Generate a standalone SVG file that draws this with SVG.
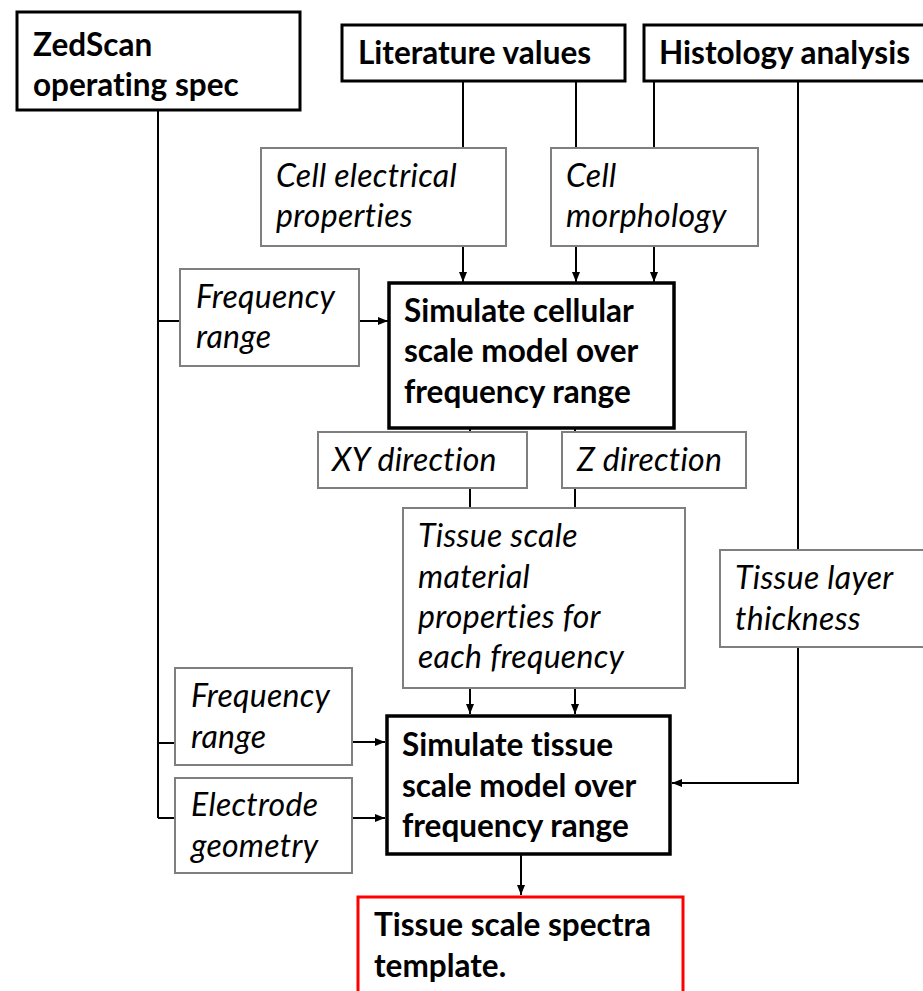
<svg xmlns="http://www.w3.org/2000/svg" width="923" height="991" viewBox="0 0 923 991">
<style>
.bg{fill:#fff}
.key{fill:#fff;stroke:#000;stroke-width:3}
.proc{fill:#fff;stroke:#000;stroke-width:3.5}
.data{fill:#fff;stroke:#7f7f7f;stroke-width:2}
.out{fill:#fff;stroke:#ff0000;stroke-width:3}
text{font-variant-ligatures:none;font-family:Lato,"Open Sans",sans-serif;fill:#000}
.b{font-weight:bold;font-size:31.5px}
.i{font-style:italic;font-size:32px;letter-spacing:0.3px}
.c{fill:none;stroke:#000;stroke-width:2}
.a{fill:none;stroke:#000;stroke-width:2;marker-end:url(#ah)}
</style>
<defs>
<marker id="ah" viewBox="0 0 10 8" refX="10" refY="4" markerWidth="10" markerHeight="8" markerUnits="userSpaceOnUse" orient="auto">
<path d="M0,0 L10,4 L0,8 Z" fill="#000"/>
</marker>
</defs>
<rect class="bg" x="0" y="0" width="923" height="991"/>
<g id="connectors">
<path class="c" d="M158,110 V818 M158,321 H180 M158,743 H175 M158,818 H175"/>
<path class="a" d="M359,321 H388"/>
<path class="c" d="M463,81 V148 M576,81 V148 M654,81 V148"/>
<path class="a" d="M463,246 V282"/>
<path class="a" d="M576,246 V282"/>
<path class="a" d="M654,246 V282"/>
<path class="c" d="M798,81 V550"/>
<path class="a" d="M798,647 V783 H672"/>
<path class="c" d="M470,428 V432 M575,428 V432 M470,488 V508 M575,488 V508"/>
<path class="a" d="M470,688 V714"/>
<path class="a" d="M575,688 V714"/>
<path class="a" d="M352,742 H385"/>
<path class="a" d="M352,818 H385"/>
<path class="a" d="M521,854 V895"/>
</g>
<g id="zedscan">
<rect class="key" x="17" y="12" width="283" height="98"/>
<text class="b" x="33" y="56">ZedScan</text>
<text class="b" x="33" y="96">operating spec</text>
</g>
<g id="literature">
<rect class="key" x="342" y="25" width="283" height="56"/>
<text class="b" x="358" y="64">Literature values</text>
</g>
<g id="histology">
<rect class="key" x="644" y="25" width="283" height="56"/>
<text class="b" x="659" y="64">Histology analysis</text>
</g>
<g id="cell-electrical">
<rect class="data" x="261" y="148" width="245" height="98"/>
<text class="i" x="276" y="187">Cell electrical</text>
<text class="i" x="276" y="227">properties</text>
</g>
<g id="cell-morphology">
<rect class="data" x="551" y="148" width="207" height="98"/>
<text class="i" x="566" y="187">Cell</text>
<text class="i" x="566" y="227">morphology</text>
</g>
<g id="freq1">
<rect class="data" x="180" y="269" width="179" height="97"/>
<text class="i" x="196" y="308">Frequency</text>
<text class="i" x="196" y="348">range</text>
</g>
<g id="sim-cellular">
<rect class="proc" x="389" y="283" width="285" height="145"/>
<text class="b" x="404" y="322">Simulate cellular</text>
<text class="b" x="404" y="362">scale model over</text>
<text class="b" x="404" y="403">frequency range</text>
</g>
<g id="xy">
<rect class="data" x="318" y="432" width="209" height="56"/>
<text class="i" x="332" y="471">XY direction</text>
</g>
<g id="z">
<rect class="data" x="562" y="432" width="184" height="56"/>
<text class="i" x="577" y="471">Z direction</text>
</g>
<g id="tissue-material">
<rect class="data" x="403" y="508" width="282" height="180"/>
<text class="i" x="418" y="547">Tissue scale</text>
<text class="i" x="418" y="588">material</text>
<text class="i" x="418" y="628">properties for</text>
<text class="i" x="418" y="668">each frequency</text>
</g>
<g id="tissue-layer">
<rect class="data" x="720" y="550" width="206" height="97"/>
<text class="i" x="735" y="589">Tissue layer</text>
<text class="i" x="735" y="630">thickness</text>
</g>
<g id="freq2">
<rect class="data" x="175" y="668" width="177" height="97"/>
<text class="i" x="191" y="707">Frequency</text>
<text class="i" x="191" y="748">range</text>
</g>
<g id="electrode">
<rect class="data" x="175" y="778" width="177" height="95"/>
<text class="i" x="191" y="816">Electrode</text>
<text class="i" x="191" y="857">geometry</text>
</g>
<g id="sim-tissue">
<rect class="proc" x="387" y="716" width="283" height="138"/>
<text class="b" x="402" y="756">Simulate tissue</text>
<text class="b" x="402" y="797">scale model over</text>
<text class="b" x="402" y="837">frequency range</text>
</g>
<g id="spectra-template">
<rect class="out" x="358" y="897" width="325" height="110"/>
<text class="b" x="374" y="936">Tissue scale spectra</text>
<text class="b" x="374" y="977">template.</text>
</g>
</svg>
